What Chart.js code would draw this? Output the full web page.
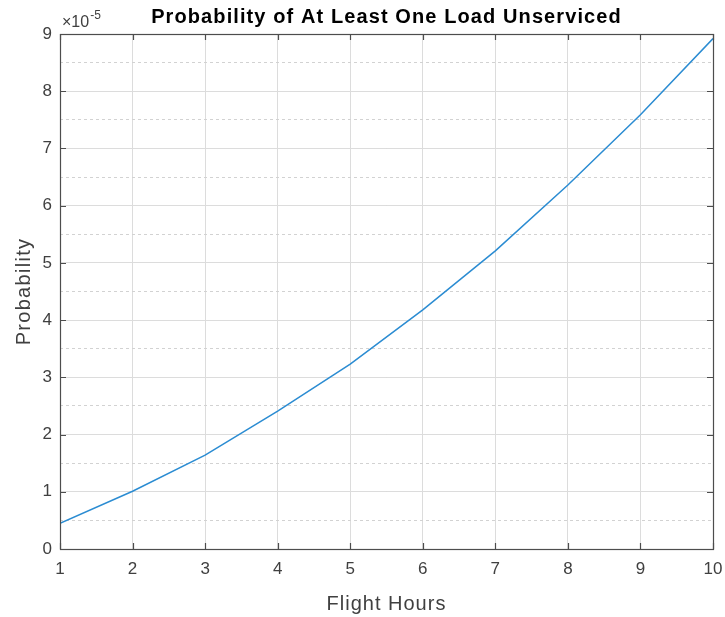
<!DOCTYPE html>
<html>
<head>
	<meta charset="utf-8">
	<title>Probability of At Least One Load Unserviced</title>
	<script src="https://cdn.jsdelivr.net/npm/chart.js"></script>
</head>
<body>
<div class="chart-container">
	<canvas id="myChart" width="725" height="617"></canvas>
</div>
<script>
// flight hours vs probability
const flightHours = [1, 2, 3, 4, 5, 6, 7, 8, 9, 10];
const probability = [0.45e-5, 1.01e-5, 1.64e-5, 2.41e-5, 3.23e-5, 4.18e-5, 5.21e-5, 6.36e-5, 7.59e-5, 8.92e-5];
const yTicks = [0, 1, 2, 3, 4, 5, 6, 7, 8, 9]; // shown as x 10^-5

const axisColor = '#4d4d4d';
const textColor = '#404040';
const gridColor = '#dcdcdc';
const fontFamily = '"Liberation Sans", Arial, sans-serif';

// box, inward ticks, title, exponent and axis labels, MATLAB-like
const decor = {
	id: 'decor',
	afterDraw(chart) {
		const { ctx, chartArea: a, scales } = chart;
		const xs = scales.x, ys = scales.y;
		ctx.save();
		ctx.strokeStyle = axisColor;
		ctx.lineWidth = 1.2;
		ctx.strokeRect(Math.round(a.left) + 0.5, Math.round(a.top) + 0.5, Math.round(a.right - a.left), Math.round(a.bottom - a.top));
		ctx.beginPath();
		flightHours.forEach(h => {
			const px = Math.round(xs.getPixelForValue(h)) + 0.5;
			ctx.moveTo(px, a.bottom); ctx.lineTo(px, a.bottom - 6);
			ctx.moveTo(px, a.top); ctx.lineTo(px, a.top + 6);
		});
		yTicks.forEach(t => {
			const py = Math.round(ys.getPixelForValue(t * 1e-5)) + 0.5;
			ctx.moveTo(a.left, py); ctx.lineTo(a.left + 6, py);
			ctx.moveTo(a.right, py); ctx.lineTo(a.right - 6, py);
		});
		ctx.stroke();

		// title centred over plot area
		ctx.fillStyle = '#000';
		ctx.font = 'bold 20px ' + fontFamily;
		ctx.letterSpacing = '1.1px';
		ctx.textAlign = 'center';
		ctx.textBaseline = 'alphabetic';
		ctx.fillText('Probability of At Least One Load Unserviced', (a.left + a.right) / 2, 23);

		// exponent
		ctx.fillStyle = textColor;
		ctx.letterSpacing = '0px';
		ctx.textAlign = 'left';
		ctx.font = '16px ' + fontFamily;
		ctx.fillText('\u00d710', a.left + 2, 27);
		const w = ctx.measureText('\u00d710').width;
		ctx.font = '12px ' + fontFamily;
		ctx.fillText('-5', a.left + 3 + w, 19);

		// x axis title
		ctx.font = '20px ' + fontFamily;
		ctx.letterSpacing = '1px';
		ctx.textAlign = 'center';
		ctx.fillText('Flight Hours', (a.left + a.right) / 2, 610);

		// y axis title
		ctx.letterSpacing = '1.3px';
		ctx.translate(30, (a.top + a.bottom) / 2);
		ctx.rotate(-Math.PI / 2);
		ctx.fillText('Probability', 0, 0);
		ctx.restore();
	}
};

const chart = new Chart(document.getElementById('myChart').getContext('2d'), {
	type: 'line',
	data: {
		datasets: [{
			data: flightHours.map((h, i) => ({ x: h, y: probability[i] })),
			borderColor: '#2b8cd2',
			borderWidth: 1.5,
			pointRadius: 0,
			tension: 0,
			fill: false
		}]
	},
	options: {
		responsive: false,
		animation: false,
		layout: { padding: { top: 34, right: 12, left: 0, bottom: 0 } },
		plugins: { legend: { display: false }, title: { display: false }, tooltip: { enabled: false } },
		scales: {
			x: {
				type: 'linear',
				min: 1,
				max: 10,
				afterFit(s) { s.height = 68; s.paddingRight = 12; },
				ticks: {
					stepSize: 1,
					padding: 10,
					color: textColor,
					font: { size: 17, family: fontFamily }
				},
				grid: { color: gridColor, drawTicks: false },
				border: { display: false }
			},
			yMinor: {
				type: 'linear',
				position: 'left',
				min: 0,
				max: 9e-5,
				afterFit(s) { s.width = 0; },
				ticks: { display: false, stepSize: 0.5e-5 },
				grid: { color: '#d2d2d2', drawTicks: false },
				border: { display: false, dash: [3, 3] }
			},
			y: {
				type: 'linear',
				position: 'left',
				min: 0,
				max: 9e-5,
				afterFit(s) { s.width = 60; },
				ticks: {
					stepSize: 1e-5,
					padding: 8,
					color: textColor,
					font: { size: 17, family: fontFamily },
					callback: v => String(Math.round(v * 1e5))
				},
				grid: { color: gridColor, drawTicks: false },
				border: { display: false }
			}
		}
	},
	plugins: [decor]
});
</script>
<style type="text/css">
body { margin: 0; background: #fff; }
.chart-container { width: 725px; height: 617px; }
</style>
</body>
</html>
